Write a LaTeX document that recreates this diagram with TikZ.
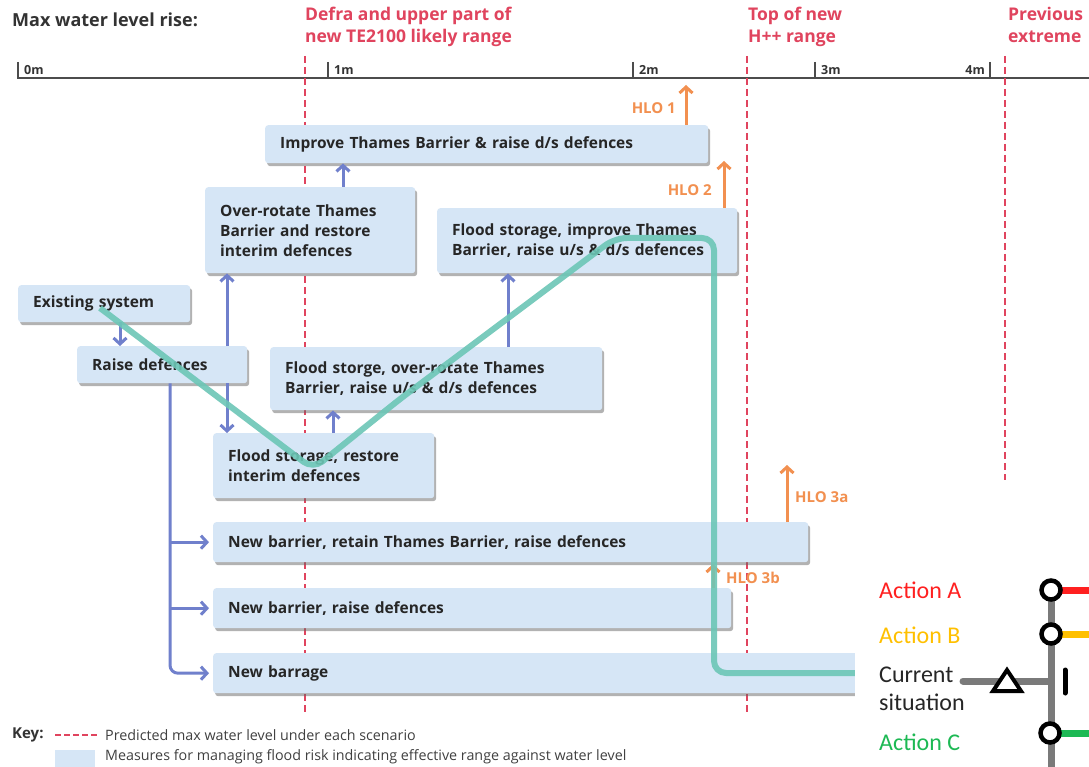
\documentclass[tikz,border=0pt]{standalone}
\usepackage{fontspec}
\setmainfont{Open Sans}
\newfontfamily\calib{Carlito}
\usetikzlibrary{shadows,arrows.meta}
\definecolor{boxfill}{HTML}{D6E6F6}
\definecolor{barrow}{HTML}{7080CC}
\definecolor{redl}{HTML}{E0445E}
\definecolor{orng}{HTML}{F29050}
\definecolor{tealg}{HTML}{6CC6B6}
\definecolor{mgray}{HTML}{7A7A7A}
\definecolor{actA}{HTML}{FF2020}
\definecolor{actB}{HTML}{FFC000}
\definecolor{actC}{HTML}{1DB954}
\tikzset{
  box/.style={fill=boxfill, rounded corners=3pt, anchor=north west, inner xsep=15pt, inner ysep=0pt,
    align=left, font=\bfseries\fontsize{15.5}{20}\selectfont, text=black!85,
    drop shadow={shadow xshift=2pt, shadow yshift=-3pt, opacity=0.5, fill=black!60}},
  barr/.style={draw=barrow, line width=3pt, -{Straight Barb[length=6pt,width=13pt]}},
  oarr/.style={draw=orng, line width=3pt, -{Straight Barb[length=6pt,width=13pt]}},
  dashl/.style={draw=redl, line width=2.5pt, dash pattern=on 7pt off 4pt},
  redlab/.style={anchor=north west, align=left, inner sep=0pt, text=redl, font=\bfseries\fontsize{17.5}{22}\selectfont},
  hlo/.style={text=orng, font=\bfseries\fontsize{15}{16}\selectfont, inner sep=0pt},
  tick/.style={draw=black!70, line width=1.5pt},
  ticklab/.style={anchor=west, inner sep=0pt, font=\bfseries\fontsize{12.5}{14}\selectfont, text=black!80},
  stn/.style={circle, draw=black, line width=4.5pt, fill=white, minimum size=19pt, inner sep=0pt},
  metro/.style={draw=mgray, line width=7pt},
  act/.style={anchor=west, inner sep=0pt, font=\calib\fontsize{24}{28}\selectfont, align=left},
  keytxt/.style={anchor=west, inner sep=0pt, font=\fontsize{14.3}{16}\selectfont, text=black!75},
}
\begin{document}
\begin{tikzpicture}[x=1pt,y=-1pt]
\useasboundingbox (0,0) rectangle (1089,767);
\fill[white] (0,0) rectangle (1089,767);

% headings
\node[anchor=west, inner sep=0pt, font=\bfseries\fontsize{18}{20}\selectfont, text=black!80] (title) at (12,20) {Max water level rise:};
\node[redlab] (defra) at (305,7) {Defra and upper part of\\new TE2100 likely range};
\node[redlab] (hpp) at (748,7) {Top of new\\H++ range};
\node[redlab] (prev) at (1008,7) {Previous\\extreme};

% axis
\draw[draw=black!70, line width=1.5pt] (17,78) -- (1089,78);
\foreach \xx/\lab in {18/0m,328/1m,633/2m,815/3m}{
  \draw[tick] (\xx,62) -- (\xx,78);
  \node[ticklab] at (\xx+6,70) {\lab};
}
\draw[tick] (990,62) -- (990,78);
\node[ticklab, anchor=east] at (985,70) {4m};

% scenario lines
\draw[dashl] (305,56) -- (305,712);
\draw[dashl] (747,56) -- (747,712);
\draw[dashl] (1005,56) -- (1005,480);

% boxes
\node[box, text width=413pt, minimum height=38pt] (b1) at (265,125) {Improve Thames Barrier \& raise d/s defences};
\node[box, text width=180pt, minimum height=86pt] (b2) at (205,187) {Over-rotate Thames\\Barrier and restore\\interim defences};
\node[box, text width=270pt, minimum height=65pt] (b3) at (437,208) {Flood storage, improve Thames\\Barrier, raise u/s \& d/s defences};
\node[box, text width=142pt, minimum height=37pt] (b4) at (18,285) {Existing system};
\node[box, text width=140pt, minimum height=37pt] (b5) at (77,346) {Raise defences};
\node[box, text width=302pt, minimum height=63pt] (b6) at (270,347) {Flood storge, over-rotate Thames\\Barrier, raise u/s \& d/s defences};
\node[box, text width=191pt, minimum height=65pt] (b7) at (213,433) {Flood storage, restore\\interim defences};
\node[box, text width=565pt, minimum height=40pt] (b8) at (213,522) {New barrier, retain Thames Barrier, raise defences};
\node[box, text width=488pt, minimum height=40pt] (b9) at (213,588) {New barrier, raise defences};
\node[box, text width=670pt, minimum height=40pt] (b10) at (213,653) {New barrage};

% x positions of vertical connectors
\coordinate (xa) at (120,0);
\coordinate (xb) at (227,0);
\coordinate (xc) at (343,0);
\coordinate (xd) at (333,0);
\coordinate (xe) at (508,0);
\coordinate (xt) at (170,0);

% blue connectors
\draw[barr] (b4.south -| xa) -- (b5.north -| xa);
\draw[barr] (b5.north -| xb) -- (b2.south -| xb);
\draw[barr] (b5.south -| xb) -- (b7.north -| xb);
\draw[barr] (b2.north -| xc) -- (b1.south -| xc);
\draw[barr] (b7.north -| xd) -- (b6.south -| xd);
\draw[barr] (b6.north -| xe) -- (b3.south -| xe);
\draw[barr, rounded corners=8pt, shorten >=4pt] (b5.south -| xt) |- (b10.west);
\draw[barr, shorten >=4pt] (b8.west -| xt) -- (b8.west);
\draw[barr, shorten >=4pt] (b9.west -| xt) -- (b9.west);

% HLO arrows
\coordinate (h1) at (686,85);
\coordinate (h2) at (724,161);
\coordinate (h3a) at (787,465);
\coordinate (h3b) at (713,564);
\draw[oarr] (b1.north -| h1) -- (h1);
\draw[oarr] (b3.north -| h2) -- (h2);
\draw[oarr] (b8.north -| h3a) -- (h3a);
\draw[oarr] (b9.north -| h3b) -- (h3b);
\node[hlo, anchor=east] (l1) at (676,108) {HLO 1};
\node[hlo, anchor=east] (l2) at (712,190) {HLO 2};
\node[hlo, anchor=west] (l3a) at (795,497) {HLO 3a};
\node[hlo, anchor=west] (l3b) at (726,578) {HLO 3b};

% green pathway
\coordinate (g0) at (100,308);
\coordinate (g1) at (313,469);
\coordinate (g2) at (400,399);
\coordinate (g3) at (615,238);
\coordinate (g4) at (714,238);
\coordinate (g5) at (714,673);
\coordinate (g6) at (860,673);
\draw[draw=tealg, line width=6pt, opacity=0.9, rounded corners=12pt, line join=round]
  (g0) -- (g1) -- (g2) -- (g3) -- (g4) -- (g5) -- (g6);

% key
\node[anchor=west, inner sep=0pt, font=\bfseries\fontsize{15}{16}\selectfont, text=black!80] (key) at (12,735) {Key:};
\draw[dashl, line width=2pt, dash pattern=on 6pt off 3pt] (55,735) -- (97,735);
\node[keytxt] (k1) at (105,735) {Predicted max water level under each scenario};
\fill[boxfill] (55,750) rectangle (95,767);
\node[keytxt] (k2) at (105,757) {Measures for managing flood risk indicating effective range against water level};

% inset
\fill[white] (855,480) rectangle (1089,767);
\node[act, text=actA] (tA) at (879,590) {Action A};
\node[act, text=actB] (tB) at (879,635) {Action B};
\node[act, text=black!85] (tCur) at (879,689) {Current\\situation};
\node[act, text=actC] (tC) at (879,742) {Action C};
\draw[metro] (1051,590) -- (1051,767);
\draw[draw=actA, line width=7pt] (1051,590) -- (1089,590);
\draw[draw=actB, line width=7pt] (1051,634) -- (1089,634);
\draw[draw=actC, line width=7pt] (1050,733) -- (1089,733);
\draw[metro, line cap=round] (963,681) -- (1051,681);
\draw[line width=4pt, fill=white, line join=miter] (993,691) -- (1007,670) -- (1021,691) -- cycle;
\draw[line width=5pt, line cap=round] (1065,670) -- (1065,693);
\node[stn] (sA) at (1051,590) {};
\node[stn] (sB) at (1051,634) {};
\node[stn] (sC) at (1050,733) {};
\end{tikzpicture}
\end{document}
